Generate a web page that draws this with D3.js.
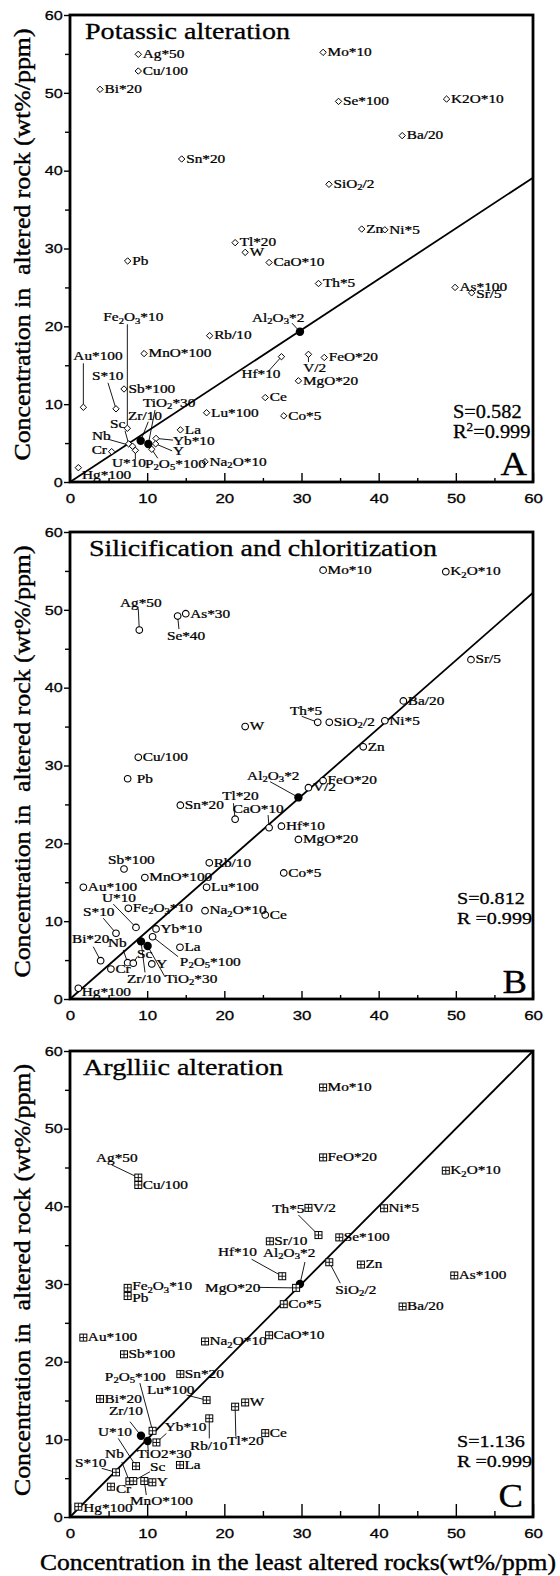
<!DOCTYPE html>
<html>
<head>
<meta charset="utf-8">
<script src="https://cdn.jsdelivr.net/npm/d3@7"></script>
<style>
  body { margin: 0; background: #fff; }
</style>
</head>
<body>
<script>
// ---- data: element labels, least altered (x) and altered (y) concentrations ----
// "_n" marks a subscript digit, "^n" a superscript digit
const labelsA = ["Ag*50", "Cu/100", "Bi*20", "Mo*10", "Se*100", "K2O*10", "Ba/20", "Sn*20", "SiO_2/2", "Zn",
  "Ni*5", "Tl*20", "W", "CaO*10", "Pb", "Th*5", "As*100", "Sr/5", "Al_2O_3*2", "Rb/10",
  "MnO*100", "Hf*10", "V/2", "FeO*20", "MgO*20", "Au*100", "S*10", "Sb*100", "Fe_2O_3*10", "Lu*100",
  "Ce", "Co*5", "Sc", "Zr/10", "TiO_2*30", "Nb", "Cr", "U*10", "P_2O_5*100", "La",
  "Yb*10", "Y", "Na_2O*10", "Hg*100"];
const leastA = [8.85, 8.85, 3.89, 32.8, 34.8, 48.8, 43.05, 14.47, 33.56, 37.8,
  40.8, 21.4, 22.7, 25.8, 7.47, 32.2, 49.9, 52.05, 29.8, 18.1,
  9.6, 27.4, 30.9, 32.95, 29.6, 1.73, 5.96, 7.0, 7.43, 17.7,
  25.3, 27.7, 7.6, 9.16, 10.15, 8.1, 5.4, 8.47, 10.6, 14.3,
  11.15, 11.1, 17.5, 1.08];
const alteredA = [54.95, 52.8, 50.45, 55.2, 48.9, 49.2, 44.5, 41.5, 38.25, 32.5,
  32.4, 30.75, 29.5, 28.2, 28.4, 25.5, 25.0, 24.3, 19.3, 18.8,
  16.5, 16.1, 16.4, 16.0, 13.0, 9.6, 9.4, 11.95, 6.9, 8.9,
  10.85, 8.5, 4.9, 5.3, 4.88, 4.6, 3.9, 4.07, 4.2, 6.7,
  5.6, 4.9, 2.6, 1.84];

const labelsB = ["Ag*50", "Se*40", "As*30", "Mo*10", "K_2O*10", "Sr/5", "Ba/20", "Th*5", "SiO_2/2", "Ni*5",
  "W", "Zn", "Cu/100", "Pb", "Al_2O_3*2", "FeO*20", "V/2", "Sn*20", "Tl*20", "CaO*10",
  "Hf*10", "MgO*20", "Rb/10", "Sb*100", "MnO*100", "Au*100", "Lu*100", "Co*5", "U*10", "Fe_2O_3*10",
  "Na_2O*10", "Ce", "S*10", "Yb*10", "P_2O_5*100", "La", "Bi*20", "Nb", "Sc", "Zr/10",
  "TiO_2*30", "Y", "Cr", "Hg*100"];
const leastB = [8.98, 13.95, 15.0, 32.8, 48.7, 51.96, 43.2, 32.1, 33.6, 40.8,
  22.7, 38.0, 8.85, 7.47, 29.6, 32.8, 30.9, 14.3, 21.4, 25.8,
  27.4, 29.6, 18.05, 7.0, 9.7, 1.73, 17.7, 27.7, 8.55, 7.56,
  17.5, 25.3, 5.96, 11.15, 10.7, 14.25, 3.97, 7.47, 8.2, 9.2,
  10.06, 10.6, 5.3, 1.08];
const alteredB = [47.4, 49.2, 49.5, 55.1, 54.9, 43.6, 38.3, 35.55, 35.55, 35.75,
  35.0, 32.4, 31.05, 28.3, 25.9, 28.05, 27.15, 24.9, 23.1, 22.0,
  22.2, 20.5, 17.5, 16.7, 15.6, 14.35, 14.35, 16.2, 9.2, 11.65,
  11.35, 10.8, 8.45, 9.0, 8.0, 6.65, 4.92, 4.67, 4.6, 7.4,
  6.8, 4.5, 3.85, 1.37];

const labelsC = ["Ag*50", "Cu/100", "Mo*10", "FeO*20", "K_2O*10", "Th*5", "V/2", "Ni*5", "Sr/10", "Se*100",
  "Hf*10", "Al_2O_3*2", "SiO_2/2", "Zn", "As*100", "MgO*20", "Fe_2O_3*10", "Pb", "Co*5", "Ba/20",
  "Au*100", "Na_2O*10", "CaO*10", "Sb*100", "Sn*20", "P_2O_5*100", "Lu*100", "Bi*20", "W", "Tl*20",
  "Rb/10", "Zr/10", "Yb*10", "Ce", "U*10", "TiO2*30", "Nb", "S*10", "Sc", "La",
  "Y", "Cr", "MnO*100", "Hg*100"];
const leastC = [8.85, 8.85, 32.8, 32.8, 48.7, 32.2, 30.9, 40.7, 25.9, 34.9,
  27.5, 29.8, 33.6, 37.7, 49.8, 29.3, 7.47, 7.47, 27.7, 43.1,
  1.73, 17.5, 25.8, 7.0, 14.3, 10.7, 17.7, 3.89, 22.7, 21.4,
  18.05, 9.2, 11.2, 25.3, 8.55, 10.06, 7.7, 5.96, 8.2, 14.25,
  10.67, 5.3, 9.63, 1.08];
const alteredC = [43.7, 42.75, 55.3, 46.3, 44.6, 36.3, 39.8, 39.75, 35.5, 36.0,
  31.0, 30.0, 32.8, 32.5, 31.1, 29.5, 29.5, 28.45, 27.4, 27.1,
  23.1, 22.6, 23.4, 20.95, 18.4, 11.1, 15.05, 15.2, 14.75, 14.2,
  12.7, 10.47, 9.6, 10.8, 6.55, 9.78, 4.6, 5.75, 4.63, 6.7,
  4.47, 3.9, 4.63, 1.33];

// immobile elements drawn as filled dots on the isocon
const immobile = ["Al_2O_3*2", "Zr/10", "TiO_2*30", "TiO2*30"];

// isocon value at x = 60 for panels A, B, C
const isoconEnd = [39.1, 52.2, 60];
const slopes = ["S=0.582", "S=0.812", "S=1.136"];
const fits = ["R^2=0.999", "R =0.999", "R =0.999"];
const titles = ["Potassic alteration", "Silicification and chloritization", "Arglliic alteration"];
const letters = ["A", "B", "C"];
const ticks = [0, 10, 20, 30, 40, 50, 60];

// label placement: [dx, dy, leaderX, leaderY] relative to the marker
const placeA = {
  "Au*100": [-10, -47, 0, -44], "S*10": [-24, -29, -8, -26], "Fe_2O_3*10": [-24, -107, 0, -104],
  "Sc": [-18.6, -16, -3.6, -13], "Nb": [-40.5, -6, -24.5, -7], "Zr/10": [-12.7, -20.7, 7.6, -19],
  "TiO_2*30": [-5.3, -37, 6.7, -34], "Cr": [-20, 2], "U*10": [-23.3, 16.7, 0, 8.7],
  "P_2O_5*100": [-6.8, 18.7, 6, 9], "Yb*10": [17, 6.7, 17, 1.7], "Y": [17.3, 11, 16.5, 7],
  "Hg*100": [3.7, 11.3], "Hf*10": [-40, 21.6, -13.4, 15], "Al_2O_3*2": [-48, -9.7, -8, -8.7],
  "V/2": [-5.3, 17.7, 0, 7.7], "Sr/5": [4.5, 5.5]
};
const placeB = {
  "Ag*50": [-19.3, -23, -1, -21], "Se*40": [-10.7, 24, 1.3, 13], "Th*5": [-27.7, -7.3, -16, -6],
  "Al_2O_3*2": [-51.3, -17.7, -28.3, -15.7], "Tl*20": [-13, -19, -1.7, -16], "CaO*10": [-36.3, -14.7, -1, -12.7],
  "Sb*100": [-16, -5], "U*10": [-34, -25.3, -22.7, -23.3], "S*10": [-33, -17.3, -12.7, -15],
  "P_2O_5*100": [27.3, 29.3, 25.6, 20], "Bi*20": [-28.7, -17.7, -7.4, -14], "Nb": [-19.7, -15.7, -4.4, -12.7],
  "Sc": [3.7, -5.3, 4, -6.6], "Zr/10": [-14, 41.3, 4, 31], "TiO_2*30": [17.3, 37, 17.3, 30.7],
  "Hg*100": [3.4, 7.7], "Pb": [9, 3.8]
};
const placeC = {
  "Ag*50": [-42.3, -15.7, -26.6, -12.7], "Th*5": [-46.3, -22, -20, -20], "Hf*10": [-64.3, -20, -30.6, -17],
  "Al_2O_3*2": [-37, -27, 5, -22], "MgO*20": [-91, 4, -38, -0.5], "SiO_2/2": [6, 31.7, 11, 21],
  "P_2O_5*100": [-47.7, -49.7, -12.7, -47.7], "Lu*100": [-59.7, -6, -20, -5], "Tl*20": [-8, 38.3, 0.7, 30],
  "Rb/10": [-19.3, 31.7, 0, 20], "Zr/10": [-32, -20.7, -11, -14], "Yb*10": [8.3, -11.3, 10, -9],
  "U*10": [-38, -30, -17.7, -27.7], "TiO2*30": [-10.7, 17, 0.6, 10.7], "Nb": [-24.3, -23, -7.6, -19.3],
  "S*10": [-41, -5.3, -14.3, -4], "Sc": [16.7, -10, 16.7, -9.3], "MnO*100": [-14.3, 24, 2, 14],
  "Cr": [5, 6.3], "Hg*100": [5, 5.5], "Pb": [4.5, 5.5], "Fe_2O_3*10": [4.5, 2.5]
};

const serif = "'Liberation Serif','Times New Roman',serif";
const sans = "'Liberation Sans',Arial,sans-serif";

const panels = [
  { labels: labelsA, xs: leastA, ys: alteredA, place: placeA, marker: "diamond", top: 15, bottom: 482,
    major: 9, minor: 4, statY: -64, letterX: 527, letterY: -7, titleW: 205 },
  { labels: labelsB, xs: leastB, ys: alteredB, place: placeB, marker: "circle", top: 532, bottom: 999,
    major: 8, minor: 4, statY: -95, letterX: 527, letterY: -6, titleW: 348 },
  { labels: labelsC, xs: leastC, ys: alteredC, place: placeC, marker: "square", top: 1051, bottom: 1517,
    major: 13, minor: 6, statY: -70, letterX: 523, letterY: -10, titleW: 200 }
];

const svg = d3.select("body").append("svg")
  .attr("width", 560)
  .attr("height", 1576)
  .attr("viewBox", [0, 0, 560, 1576])
  .style("display", "block")
  .style("background", "#fff");

// text with subscript / superscript digits, optionally stretched sideways
function richText(parent, x, y, str, o = {}) {
  const size = o.size || 11.5;
  const t = parent.append("text")
    .attr("transform", `translate(${x},${y})${o.rotate ? ` rotate(${o.rotate})` : ""} scale(${o.sx || 1},1)`)
    .attr("font-family", o.family || serif)
    .attr("font-size", size)
    .attr("text-anchor", o.anchor || "start")
    .attr("fill", "#000")
    .attr("stroke", "#000")
    .attr("stroke-width", o.weight || 0.25)
    .style("white-space", "pre");
  if (o.length) t.attr("textLength", o.length).attr("lengthAdjust", "spacingAndGlyphs");
  let shift = 0;
  str.split(/([_^]\d)/).filter(s => s).forEach(s => {
    let off = 0, fs = size, txt = s;
    if (s[0] === "_") { off = size * 0.2; fs = size * 0.7; txt = s.slice(1); }
    else if (s[0] === "^") { off = -size * 0.4; fs = size * 0.65; txt = s.slice(1); }
    t.append("tspan").attr("dy", off - shift).attr("font-size", fs).text(txt);
    shift = off;
  });
  return t;
}

function drawMarker(g, kind) {
  if (kind === "diamond") {
    g.append("path").attr("d", "M0,-3.2L3.2,0L0,3.2L-3.2,0Z")
      .attr("fill", "#fff").attr("stroke", "#000").attr("stroke-width", 1);
  } else if (kind === "circle") {
    g.append("circle").attr("r", 3.3)
      .attr("fill", "#fff").attr("stroke", "#000").attr("stroke-width", 1.1);
  } else {
    g.append("rect").attr("x", -3.5).attr("y", -3.5).attr("width", 7).attr("height", 7)
      .attr("fill", "#fff").attr("stroke", "#000").attr("stroke-width", 1);
    g.append("path").attr("d", "M-3.5,0H3.5M0,-3.5V3.5")
      .attr("stroke", "#000").attr("stroke-width", 0.9);
  }
}

panels.forEach((p, k) => {
  const x = d3.scaleLinear([0, 60], [70, 533]);
  const y = d3.scaleLinear([0, 60], [p.bottom, p.top]);
  const g = svg.append("g");

  // bottom axis: inward ticks, major + minor
  const gx = g.append("g").attr("transform", `translate(0,${p.bottom})`);
  gx.call(d3.axisBottom(x).tickValues(ticks).tickSize(-p.major).tickPadding(11.5));
  gx.append("g").call(d3.axisBottom(x).tickValues(d3.range(5, 60, 10)).tickSize(-p.minor).tickFormat(""));
  // left axis: outward ticks
  const gy = g.append("g").attr("transform", "translate(70,0)");
  gy.call(d3.axisLeft(y).tickValues(ticks).tickSize(6).tickPadding(0));
  gy.append("g").call(d3.axisLeft(y).tickValues(d3.range(5, 60, 10)).tickSize(5).tickFormat(""));

  [gx, gy].forEach(a => {
    a.selectAll(".domain").remove();
    a.selectAll(".tick line").attr("stroke", "#000").attr("stroke-width", 1.4);
    a.selectAll("text").attr("font-family", sans).attr("font-size", 13.5).attr("fill", "#000")
      .attr("stroke", "#000").attr("stroke-width", 0.3);
  });
  gx.selectAll("text").attr("transform", "scale(1.25,1)");
  gy.selectAll("text").attr("transform", "scale(1.2,1)");

  // isocon line
  const line = d3.line().x(d => x(d[0])).y(d => y(d[1]));
  g.append("path")
    .attr("d", line([[0, 0], [60, isoconEnd[k]]]))
    .attr("fill", "none").attr("stroke", "#000").attr("stroke-width", 1.8);

  // leader lines
  p.labels.forEach((name, i) => {
    const pl = p.place[name];
    if (!pl || pl.length < 4) return;
    const px = x(p.xs[i]), py = y(p.ys[i]);
    g.append("line")
      .attr("x1", px + pl[2]).attr("y1", py + pl[3])
      .attr("x2", px).attr("y2", py)
      .attr("stroke", "#000").attr("stroke-width", 0.9);
  });

  // markers
  p.labels.forEach((name, i) => {
    const m = g.append("g").attr("transform", `translate(${x(p.xs[i])},${y(p.ys[i])})`);
    if (immobile.includes(name)) {
      m.append("circle").attr("r", 4.2).attr("fill", "#000");
    } else {
      drawMarker(m, p.marker);
    }
  });

  // point labels
  p.labels.forEach((name, i) => {
    const pl = p.place[name] || [4.5, 3.8];
    richText(g, x(p.xs[i]) + pl[0], y(p.ys[i]) + pl[1], name, { size: 11.5, sx: 1.33 });
  });

  // frame
  g.append("rect")
    .attr("x", 70).attr("y", p.top)
    .attr("width", 463).attr("height", p.bottom - p.top)
    .attr("fill", "none").attr("stroke", "#000").attr("stroke-width", 2.8);

  // panel title
  richText(g, k === 1 ? 89 : (k === 0 ? 85 : 83), p.top + 24, titles[k], { size: 22.5, length: p.titleW, weight: 0.3 });

  // statistics and panel letter
  const big = k === 0 ? { size: 18.5, sx: 1.1, weight: 0.3 } : { size: 16.5, sx: 1.22, weight: 0.3 };
  richText(g, k === 0 ? 453 : 457, p.bottom + p.statY, slopes[k], big);
  richText(g, k === 0 ? 453 : 457, p.bottom + p.statY + 20, fits[k], big);
  richText(g, p.letterX, p.bottom + p.letterY, letters[k], { size: 34, sx: 1.08, anchor: "end", weight: 0.3 });

  // y axis title
  richText(g, 30, (p.top + p.bottom) / 2 - 4, "Concentration in  altered rock (wt%/ppm)",
    { size: 23, rotate: -90, anchor: "middle", length: 432, weight: 0.4 });
});

// x axis title
richText(svg, 40, 1570, "Concentration in the least altered rocks(wt%/ppm)", { size: 24, length: 516, weight: 0.4 });
</script>
</body>
</html>
